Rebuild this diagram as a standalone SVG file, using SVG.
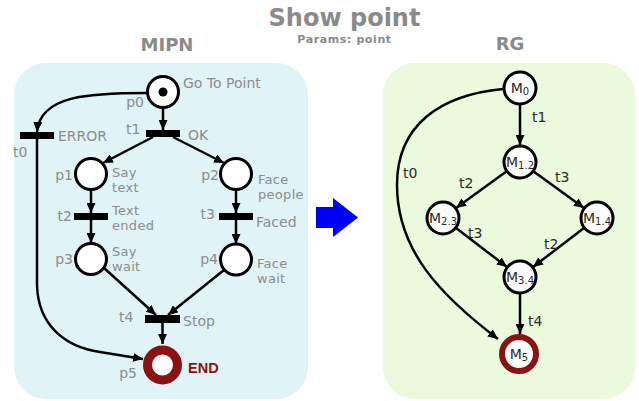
<svg xmlns="http://www.w3.org/2000/svg" width="639" height="401" viewBox="0 0 639 401">
  <defs>
    <marker id="arrow" viewBox="0 0 10 9" refX="10" refY="4.5" markerWidth="10" markerHeight="9" markerUnits="userSpaceOnUse" orient="auto">
      <path d="M0,0 L10,4.5 L0,9 z" fill="#000"/>
    </marker>
    <style>
      .panel-mipn { fill: #e0f3f7; }
      .panel-rg { fill: #ebf9dd; }
      .title { font-family: "DejaVu Sans", Verdana, sans-serif; font-weight: bold; fill: #8a8a8a; }
      .lbl { font-family: "DejaVu Sans", Verdana, sans-serif; font-size: 14px; fill: #8c8c8c; }
      .lbl2 { font-family: "DejaVu Sans", Verdana, sans-serif; font-size: 13px; letter-spacing: 0.3px; fill: #8c8c8c; }
      .rlbl { font-family: "DejaVu Sans", Verdana, sans-serif; font-size: 14px; fill: #2a2a2a; }
      .mk { font-family: "DejaVu Sans", Verdana, sans-serif; font-size: 14px; fill: #2a2a2a; }
      .place { fill: #fff; stroke: #000; stroke-width: 3; }
      .final { fill: #fff; stroke: #8b1212; }
      .bar { fill: #000; }
      .arc { fill: none; stroke: #000; stroke-width: 2.5; marker-end: url(#arrow); }
    </style>
  </defs>

  <!-- headings -->
  <text class="title" x="344.5" y="26" font-size="24" text-anchor="middle">Show point</text>
  <text class="title" x="344.5" y="43" font-size="11" letter-spacing="0.6" text-anchor="middle" fill="#7a7a7a">Params: point</text>
  <text class="title" x="167" y="51" font-size="18" text-anchor="middle">MIPN</text>
  <text class="title" x="510" y="50" font-size="18" text-anchor="middle">RG</text>

  <!-- panels -->
  <rect class="panel-mipn" x="14" y="63" width="294" height="336" rx="32" ry="32"/>
  <rect class="panel-rg" x="383" y="63" width="252" height="336" rx="32" ry="32"/>

  <!-- conversion arrow -->
  <polygon points="316,207 333,207 333,198 358,217.5 333,237 333,228 316,228" fill="#0000f5"/>

  <!-- Petri net arcs -->
  <g id="mipn-arcs">
    <path class="arc" d="M163,108 L163,130"/>
    <path class="arc" d="M147,93 C90,93 40,95 37,132"/>
    <path class="arc" d="M37,139 L37,285 C38,325 65,347 100,352 L143,359"/>
    <path class="arc" d="M153,137 L103,163"/>
    <path class="arc" d="M173,137 L224,163"/>
    <path class="arc" d="M91,190 L91,213"/>
    <path class="arc" d="M91,220 L91,243"/>
    <path class="arc" d="M236,190 L236,213"/>
    <path class="arc" d="M236,220 L236,244"/>
    <path class="arc" d="M104,268 L156,315"/>
    <path class="arc" d="M224,270 L168,315"/>
    <path class="arc" d="M162.5,323 L162.5,344"/>
  </g>

  <!-- places -->
  <g id="p0">
    <circle class="place" cx="163" cy="92" r="15.5"/>
    <circle cx="163" cy="92" r="4.5" fill="#000"/>
    <text class="lbl" x="144" y="107" text-anchor="end">p0</text>
    <text class="lbl" x="183" y="88">Go To Point</text>
  </g>
  <g id="p1">
    <circle class="place" cx="91" cy="174" r="15.5"/>
    <text class="lbl" x="73" y="180" text-anchor="end">p1</text>
    <text class="lbl2" x="112" y="176.5">Say</text>
    <text class="lbl2" x="112" y="191.5">text</text>
  </g>
  <g id="p2">
    <circle class="place" cx="236" cy="174" r="15.5"/>
    <text class="lbl" x="219" y="180" text-anchor="end">p2</text>
    <text class="lbl2" x="258" y="183.5">Face</text>
    <text class="lbl2" x="258" y="198.5">people</text>
  </g>
  <g id="p3">
    <circle class="place" cx="91" cy="259" r="15.5"/>
    <text class="lbl" x="73" y="264" text-anchor="end">p3</text>
    <text class="lbl2" x="112" y="255.5">Say</text>
    <text class="lbl2" x="112" y="270.5">wait</text>
  </g>
  <g id="p4">
    <circle class="place" cx="236" cy="259.5" r="15.5"/>
    <text class="lbl" x="218" y="264" text-anchor="end">p4</text>
    <text class="lbl2" x="257" y="268">Face</text>
    <text class="lbl2" x="257" y="283">wait</text>
  </g>
  <g id="p5">
    <circle class="final" cx="162.5" cy="365" r="15" stroke-width="9"/>
    <text class="lbl" x="137" y="378" text-anchor="end">p5</text>
    <text x="188" y="373" font-family="'Liberation Sans', Arial, sans-serif" font-weight="bold" font-size="14.5" fill="#8b1212">END</text>
  </g>

  <!-- transitions -->
  <g id="t0">
    <rect class="bar" x="20" y="132" width="34" height="7"/>
    <text class="lbl" x="58" y="141">ERROR</text>
    <text class="lbl" x="13" y="157">t0</text>
  </g>
  <g id="t1">
    <rect class="bar" x="146" y="130" width="34" height="7"/>
    <text class="lbl" x="126" y="134">t1</text>
    <text class="lbl" x="188" y="140">OK</text>
  </g>
  <g id="t2">
    <rect class="bar" x="74" y="213" width="34" height="7"/>
    <text class="lbl" x="72" y="221" text-anchor="end">t2</text>
    <text class="lbl2" x="112" y="214.5">Text</text>
    <text class="lbl2" x="112" y="229.5">ended</text>
  </g>
  <g id="t3">
    <rect class="bar" x="219" y="213" width="34" height="7"/>
    <text class="lbl" x="215" y="219" text-anchor="end">t3</text>
    <text class="lbl" x="256" y="227">Faced</text>
  </g>
  <g id="t4">
    <rect class="bar" x="145" y="315" width="35" height="8"/>
    <text class="lbl" x="119" y="322">t4</text>
    <text class="lbl" x="183" y="326">Stop</text>
  </g>

  <!-- reachability graph edges -->
  <g id="rg-edges">
    <path class="arc" d="M520,104 L520,145"/>
    <path class="arc" d="M507,171 L456,208"/>
    <path class="arc" d="M533,171 L584,208"/>
    <path class="arc" d="M456,228 L507,267"/>
    <path class="arc" d="M584,228 L533,267"/>
    <path class="arc" d="M520,293 L520,334"/>
    <path class="arc" d="M503,89 C440,95 397,125 397,185 C397,250 440,295 498,339"/>
    <text class="rlbl" x="532" y="122">t1</text>
    <text class="rlbl" x="403" y="178">t0</text>
    <text class="rlbl" x="459" y="188">t2</text>
    <text class="rlbl" x="555" y="182">t3</text>
    <text class="rlbl" x="468" y="238">t3</text>
    <text class="rlbl" x="544" y="249">t2</text>
    <text class="rlbl" x="528" y="326">t4</text>
  </g>

  <!-- markings -->
  <g id="M0">
    <circle class="place" cx="520" cy="88" r="16"/>
    <text class="mk" x="520" y="93" text-anchor="middle">M<tspan font-size="10" dy="2">0</tspan></text>
  </g>
  <g id="M12">
    <circle class="place" cx="520" cy="162" r="16"/>
    <text class="mk" x="520" y="167" text-anchor="middle">M<tspan font-size="10" dy="2">1.2</tspan></text>
  </g>
  <g id="M23">
    <circle class="place" cx="443" cy="218" r="16"/>
    <text class="mk" x="443" y="223" text-anchor="middle">M<tspan font-size="10" dy="2">2.3</tspan></text>
  </g>
  <g id="M14">
    <circle class="place" cx="597" cy="218" r="16"/>
    <text class="mk" x="597" y="223" text-anchor="middle">M<tspan font-size="10" dy="2">1.4</tspan></text>
  </g>
  <g id="M34">
    <circle class="place" cx="520" cy="277" r="16"/>
    <text class="mk" x="520" y="282" text-anchor="middle">M<tspan font-size="10" dy="2">3.4</tspan></text>
  </g>
  <g id="M5">
    <circle class="final" cx="519" cy="354" r="17" stroke-width="6"/>
    <text class="mk" x="519" y="359" text-anchor="middle">M<tspan font-size="10" dy="2">5</tspan></text>
  </g>
</svg>
